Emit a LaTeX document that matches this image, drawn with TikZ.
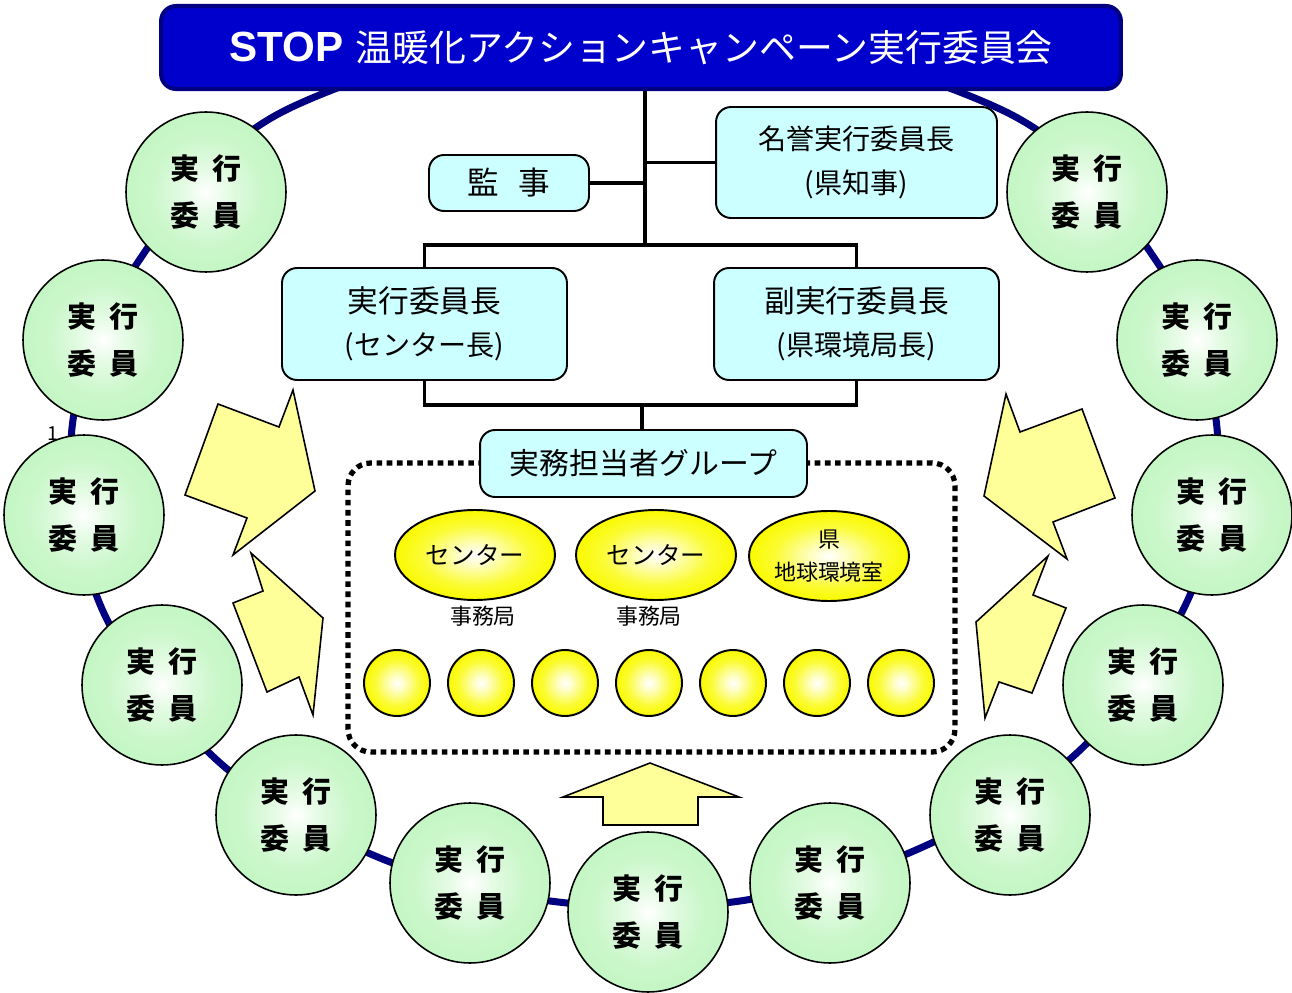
\documentclass[tikz,border=0pt]{standalone}
\usepackage{fontspec}
\setmainfont{Noto Sans CJK JP}
\newfontfamily\arialfont{Liberation Sans}
\usetikzlibrary{shapes.geometric}
\definecolor{navy}{RGB}{0,0,128}
\definecolor{titleblue}{RGB}{0,0,204}
\definecolor{boxcyan}{RGB}{204,255,255}
\definecolor{arrowyel}{RGB}{255,255,153}
\definecolor{ballgreen}{RGB}{196,246,196}
\definecolor{ballyel}{RGB}{250,250,0}
\pgfdeclareradialshading{greenball}{\pgfpoint{0bp}{0bp}}{color(0bp)=(white); color(7bp)=(ballgreen!45); color(17bp)=(ballgreen!88); color(25bp)=(ballgreen); color(50bp)=(ballgreen)}
\pgfdeclareradialshading{yelball}{\pgfpoint{0bp}{0bp}}{color(0bp)=(white); color(6bp)=(ballyel!25); color(17bp)=(ballyel!80); color(25bp)=(ballyel); color(50bp)=(ballyel)}
\tikzset{
  member/.style={circle, draw=black, line width=0.9pt, minimum size=3.2cm, inner sep=0pt,
    shading=greenball, align=center, font=\bfseries\fontsize{16.5pt}{26.6pt}\selectfont},
  infobox/.style={draw=black, line width=1.1pt, fill=boxcyan, rounded corners=0.3cm, inner sep=0pt, align=center},
  conn/.style={draw=black, line width=2pt},
  bigarrow/.style={draw=black, line width=0.9pt, fill=arrowyel, line join=miter},
  yelell/.style={ellipse, draw=black, line width=1.1pt, shading=yelball, minimum width=3.2cm, minimum height=1.8cm, inner sep=0pt, align=center},
  yelball/.style={circle, draw=black, line width=1.1pt, shading=yelball, minimum size=1.32cm, inner sep=0pt},
  ring/.style={draw=navy, line width=4pt},
  dotbox/.style={draw=black, line width=3pt, dash pattern=on 3.2pt off 2.6pt, rounded corners=0.45cm, minimum width=12.14cm, minimum height=5.78cm}
}
\newcommand{\jitsu}{実\hspace{7pt}行\\委\hspace{7pt}員}
\begin{document}
\begin{tikzpicture}[x=0.02cm, y=-0.02cm]
\useasboundingbox (0,0) rectangle (1292,993);
% ring
\draw[ring] plot[smooth cycle, tension=0.55] coordinates {(645,20) (290,108) (138,262) (72,428) (102,609) (219,762) (380,858) (558,902) (740,901) (916,850) (1078,752) (1190,595) (1217,428) (1157,262) (1002,110)};
% small stray label
\node[font=\fontsize{11pt}{11pt}\selectfont, inner sep=0pt] (one) at (53,434) {1};
% title
\node[draw=navy, line width=2.3pt, fill=titleblue, rounded corners=0.3cm, minimum width=19.2cm, minimum height=1.66cm, text=white, inner sep=0pt] (title) at (641,47.5)
  {\raisebox{1.5pt}{{\arialfont\bfseries\fontsize{24pt}{24pt}\selectfont STOP}\hspace{7pt}{\fontsize{21pt}{24pt}\selectfont 温暖化アクションキャンペーン実行委員会}}};
% member circles
\node[member] (m1) at (206,192) {\jitsu};
\node[member] (m2) at (103,340) {\jitsu};
\node[member] (m3) at (84,515) {\jitsu};
\node[member] (m4) at (162,685) {\jitsu};
\node[member] (m5) at (296,815) {\jitsu};
\node[member] (m6) at (470,883) {\jitsu};
\node[member] (m7) at (648,912) {\jitsu};
\node[member] (m8) at (830,883) {\jitsu};
\node[member] (m9) at (1010,815) {\jitsu};
\node[member] (m10) at (1143,685) {\jitsu};
\node[member] (m11) at (1212,515) {\jitsu};
\node[member] (m12) at (1197,340) {\jitsu};
\node[member] (m13) at (1087,192) {\jitsu};
% boxes
\node[infobox, minimum width=3.2cm, minimum height=1.12cm, font=\fontsize{18pt}{20pt}\selectfont] (kanji) at (509,183) {監\hspace{11pt}事};
\node[infobox, minimum width=5.62cm, minimum height=2.22cm, font=\fontsize{16pt}{25pt}\selectfont] (meiyo) at (856.5,162.5) {名誉実行委員長\\(県知事)};
\node[infobox, minimum width=5.7cm, minimum height=2.24cm, font=\fontsize{16pt}{24.4pt}\selectfont] (chair) at (424.5,324) {{\fontsize{17.5pt}{24.4pt}\selectfont 実行委員長}\\(センター長)};
\node[infobox, minimum width=5.7cm, minimum height=2.24cm, font=\fontsize{16pt}{24.4pt}\selectfont] (vice) at (856.5,324) {{\fontsize{17.5pt}{24.4pt}\selectfont 副実行委員長}\\(県環境局長)};
% connectors
\coordinate (j1) at (645,245);
\coordinate (j2) at (642,405);
\draw[conn] (title.south -| j1) -- (j1);
\draw[conn] (kanji.east) -- (kanji.east -| j1);
\draw[conn] (meiyo.west) -- (meiyo.west -| j1);
\draw[conn] (chair.north) -- (chair.north |- j1) -- (vice.north |- j1) -- (vice.north);
\draw[conn] (chair.south) -- (chair.south |- j2) -- (vice.south |- j2) -- (vice.south);
% working group
\node[dotbox] (wg) at (651.5,607.5) {};
\draw[conn] (j2) -- (j2 |- 0,431);
\node[infobox, minimum width=6.54cm, minimum height=1.34cm, font=\fontsize{17pt}{20pt}\selectfont] (group) at (643.5,463.5) {実務担当者グループ};
\node[yelell, font=\fontsize{14pt}{16pt}\selectfont] (e1) at (475,555) {センター};
\node[yelell, font=\fontsize{14pt}{16pt}\selectfont] (e2) at (656,555) {センター};
\node[yelell, font=\fontsize{12.5pt}{18.7pt}\selectfont] (e3) at (829,556) {県\\地球環境室};
\node[font=\fontsize{12.5pt}{14pt}\selectfont, inner sep=0pt] (s1) at (483,616) {事務局};
\node[font=\fontsize{12.5pt}{14pt}\selectfont, inner sep=0pt] (s2) at (649,616) {事務局};
\foreach \i/\x in {1/397,2/481,3/565,4/649,5/733,6/817,7/901}
  \node[yelball] (b\i) at (\x,683) {};
% arrows
\draw[bigarrow] (218,404) -- (279,427) -- (293,390) -- (315,491) -- (233,555) -- (247,518) -- (185,495) -- cycle;
\draw[bigarrow] (251,553) -- (263,591) -- (233,603) -- (267,692) -- (299,677) -- (313,715) -- (323,618) -- cycle;
\draw[bigarrow] (1006,394) -- (1020,432) -- (1082,409) -- (1115,498) -- (1053,522) -- (1067,559) -- (984,496) -- cycle;
\draw[bigarrow] (1048,556) -- (1033,595) -- (1066,608) -- (1032,693) -- (999,682) -- (985,718) -- (976,622) -- cycle;
\draw[bigarrow] (650,763) -- (739,797) -- (698,797) -- (698,825) -- (603,825) -- (603,797) -- (563,797) -- cycle;
\end{tikzpicture}
\end{document}
